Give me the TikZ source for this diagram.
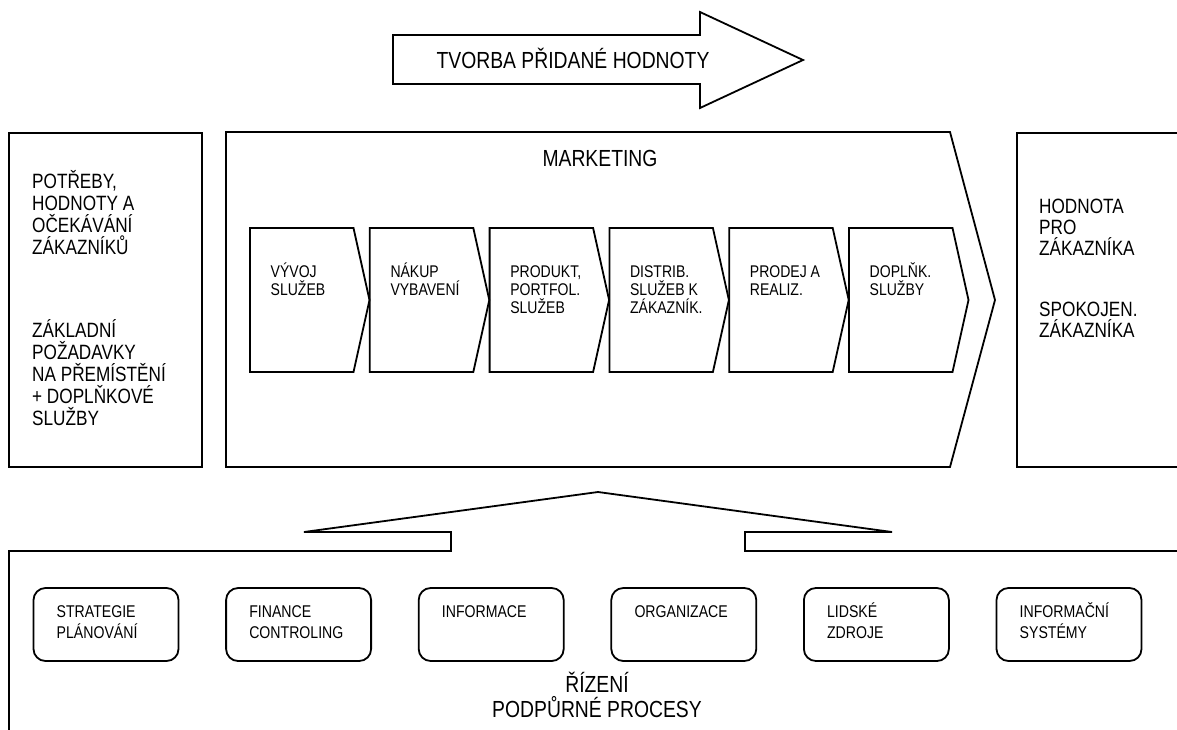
\documentclass[tikz,border=0pt]{standalone}
\usepackage{fontspec}
\setmainfont{Liberation Sans}[FakeStretch=0.83]
\begin{document}
\begin{tikzpicture}[x=1pt,y=-1pt]
\tikzset{
  outline/.style={draw, line width=1.8pt, line join=miter},
  lbl/.style={inner sep=0pt, align=left, anchor=base west},
  bigfont/.style={font=\fontsize{23.3}{25}\selectfont},
  midfont/.style={font=\fontsize{20.7}{22}\selectfont},
  sidefont/.style={font=\fontsize{20.7}{21}\selectfont},
  chevfont/.style={font=\fontsize{16.9}{18}\selectfont},
  boxfont/.style={font=\fontsize{17}{21}\selectfont},
}
\useasboundingbox (0,0) rectangle (1177,729);

% value-creation arrow
\draw[outline] (393,35) -- (700,35) -- (700,12) -- (803,60) -- (700,108)
  -- (700,84) -- (393,84) -- cycle;
\node[bigfont, inner sep=0pt, anchor=base] (title) at (573,68) {TVORBA PŘIDANÉ HODNOTY};

% customer needs box (text nodes are placed by the baseline of their last line)
\draw[outline] (9,133) rectangle (202,467);
\node[lbl, midfont] (needs) at (32,254) {POTŘEBY,\\HODNOTY A\\OČEKÁVÁNÍ\\ZÁKAZNÍKŮ};
\node[lbl, midfont] (reqs) at (32,425) {ZÁKLADNÍ\\POŽADAVKY\\NA PŘEMÍSTĚNÍ\\+ DOPLŇKOVÉ\\SLUŽBY};

% marketing chevron
\draw[outline] (226,132) -- (950,132) -- (995,300) -- (950,467) -- (226,467) -- cycle;
\node[bigfont, inner sep=0pt, anchor=base] (mkt) at (600,166) {MARKETING};

% process chevrons: index / extra lines / text
\foreach \i/\n/\t in {0/1/{VÝVOJ\\SLUŽEB}, 1/1/{NÁKUP\\VYBAVENÍ}, 2/2/{PRODUKT,\\PORTFOL.\\SLUŽEB},
    3/2/{DISTRIB.\\SLUŽEB K\\ZÁKAZNÍK.}, 4/1/{PRODEJ A\\REALIZ.}, 5/1/{DOPLŇK.\\SLUŽBY}} {
  \pgfmathsetmacro{\xl}{250+119.8*\i}
  \pgfmathsetmacro{\yb}{277+18*\n}
  \draw[outline] (\xl,228) -- (\xl+103.5,228) -- (\xl+119.5,300) -- (\xl+103.5,372)
    -- (\xl,372) -- cycle;
  \node[lbl, chevfont] (ch\i) at (\xl+20.5,\yb) {\t};
}

% customer value box (open to the right)
\draw[outline] (1180,133) -- (1017,133) -- (1017,467) -- (1180,467);
\node[lbl, sidefont] (value) at (1039,255) {HODNOTA\\PRO\\ZÁKAZNÍKA};
\node[lbl, sidefont] (satisf) at (1039,337) {SPOKOJEN.\\ZÁKAZNÍKA};

% support processes frame with roof
\draw[outline] (1180,551) -- (745,551) -- (745,532) -- (892,532) -- (598,492)
  -- (304,532) -- (451,532) -- (451,551) -- (9,551) -- (9,735);

% support process boxes: index / extra lines / text
\foreach \i/\n/\t in {0/1/{STRATEGIE\\PLÁNOVÁNÍ}, 1/1/{FINANCE\\CONTROLING}, 2/0/{INFORMACE},
    3/0/{ORGANIZACE}, 4/1/{LIDSKÉ\\ZDROJE}, 5/1/{INFORMAČNÍ\\SYSTÉMY}} {
  \pgfmathsetmacro{\xl}{33.5+192.6*\i}
  \pgfmathsetmacro{\yb}{617+21*\n}
  \draw[outline, rounded corners=12pt] (\xl,588) rectangle (\xl+145,661);
  \node[lbl, boxfont] (sp\i) at (\xl+23,\yb) {\t};
}

\node[bigfont, inner sep=0pt, align=center, anchor=base] (mgmt) at (597,717)
  {ŘÍZENÍ\\PODPŮRNÉ PROCESY};
\end{tikzpicture}
\end{document}
